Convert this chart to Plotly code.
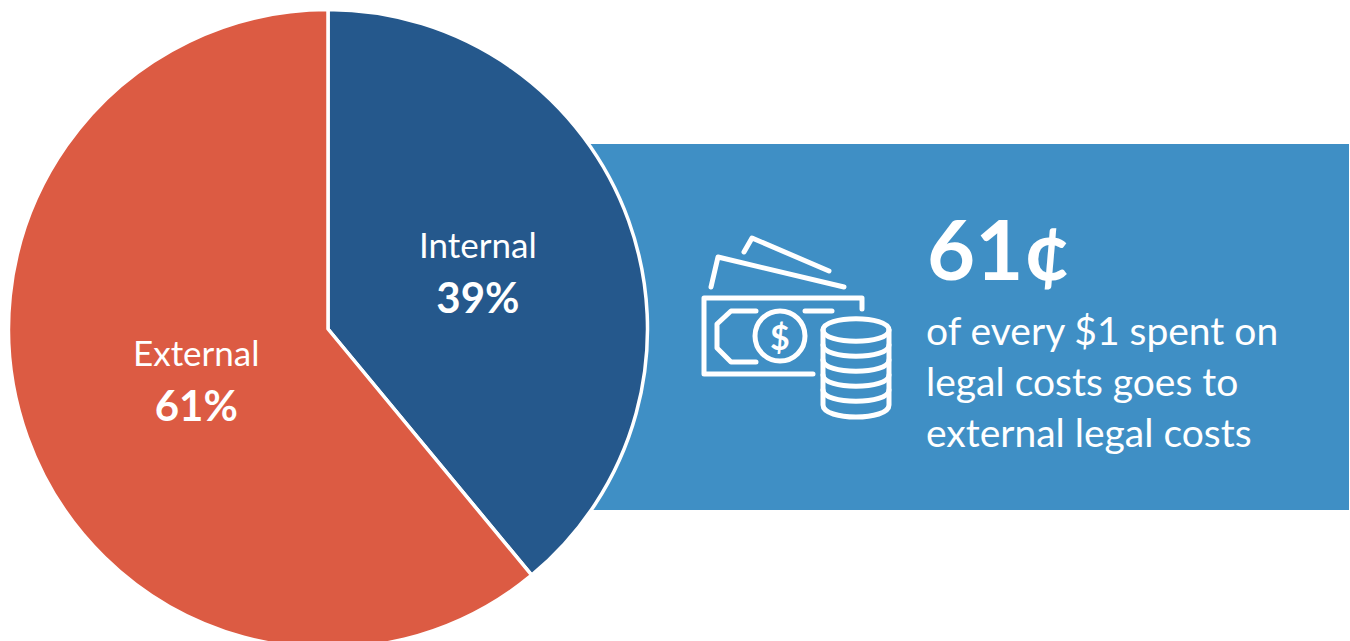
import plotly.graph_objects as go

# Split of legal spend
categories = ["Internal", "External"]
shares = [39, 61]
slice_colors = ["#25588C", "#DC5B43"]
label_positions = [(478, 272), (196, 380)]

headline = "61¢"
callout_lines = ["of every $1 spent on", "legal costs goes to", "external legal costs"]

WIDTH, HEIGHT = 1350, 660
FONT = "Lato"
BANNER = "#3F8FC5"
ICON_STROKE = 5

fig = go.Figure()

# The pie runs slightly past the bottom of the 641px viewport
fig.add_trace(go.Pie(
    labels=categories,
    values=shares,
    sort=False,
    direction="clockwise",
    rotation=0,
    textinfo="none",
    hoverinfo="label+percent",
    showlegend=False,
    marker=dict(colors=slice_colors, line=dict(color="white", width=3.5)),
    domain=dict(x=[8.5 / WIDTH, 647.5 / WIDTH], y=[1 - 648.5 / HEIGHT, 1 - 9.5 / HEIGHT]),
))

# A hidden pixel-scaled axis pair positions the banner, icon and text
fig.add_trace(go.Scatter(x=[0, WIDTH], y=[0, HEIGHT], mode="markers",
                         marker=dict(opacity=0), hoverinfo="skip", showlegend=False))


def stroke(path):
    return dict(type="path", xref="x", yref="y", path=path, layer="above",
                line=dict(color="white", width=ICON_STROKE))


shapes = [dict(type="rect", xref="x", yref="y", x0=590, x1=1349, y0=144, y1=510,
               fillcolor=BANNER, line=dict(width=0), layer="below")]

# Banknotes
shapes += [
    stroke("M744,252 L752,238 L829,271"),
    stroke("M711,287 L718,257 L844,287"),
    stroke("M862,309 L862,298 L704,298 L704,374 L813,374"),
    stroke("M756,311 L731,311 L717,324 L717,348 L731,362 L756,362"),
    stroke("M805,311 L832,311"),
    dict(type="circle", xref="x", yref="y", x0=755, x1=805, y0=311, y1=361,
         line=dict(color="white", width=ICON_STROKE), layer="above"),
]

# Coin stack: top ellipse, sides, then one lower arc per coin
shapes.append(stroke("M823,330 C823,315 889,315 889,330 C889,345 823,345 823,330 Z"))
shapes.append(stroke("M823,330 L823,405 C823,421 889,421 889,405 L889,330"))
for band_y in (345, 360, 375, 390):
    shapes.append(stroke(f"M823,{band_y} C823,{band_y + 15} 889,{band_y + 15} 889,{band_y}"))

annotations = [dict(x=780, y=336, xref="x", yref="y", text="<b>$</b>", showarrow=False,
                    font=dict(family=FONT, size=34, color="white"))]

for name, share, (px, py) in zip(categories, shares, label_positions):
    annotations.append(dict(
        x=px, y=py, xref="x", yref="y", showarrow=False, align="center",
        text=f"<span style='font-size:35px'>{name}</span><br><b>{share}%</b>",
        font=dict(family=FONT, size=42, color="white"),
    ))

annotations.append(dict(x=925, y=248, xref="x", yref="y", xanchor="left", showarrow=False,
                        text=f"<b>{headline}</b>",
                        font=dict(family=FONT, size=83, color="white")))

for line_y, line in zip((330, 381, 432), callout_lines):
    annotations.append(dict(x=924, y=line_y, xref="x", yref="y", xanchor="left",
                            showarrow=False, text=line,
                            font=dict(family=FONT, size=39, color="white")))

fig.update_layout(
    width=WIDTH,
    height=HEIGHT,
    margin=dict(l=0, r=0, t=0, b=0),
    paper_bgcolor="white",
    plot_bgcolor="rgba(0,0,0,0)",
    xaxis=dict(range=[0, WIDTH], visible=False, fixedrange=True),
    yaxis=dict(range=[HEIGHT, 0], visible=False, fixedrange=True),
    shapes=shapes,
    annotations=annotations,
)

# Round stroke ends on the icon and keep the page from scrolling
fig.write_html("out.html", post_script=(
    "document.documentElement.style.overflow='hidden';"
    "document.body.style.overflow='hidden';"
    "document.querySelectorAll('.shapelayer path').forEach(function(p){"
    "p.style.strokeLinecap='round';p.style.strokeLinejoin='round';});"
))
